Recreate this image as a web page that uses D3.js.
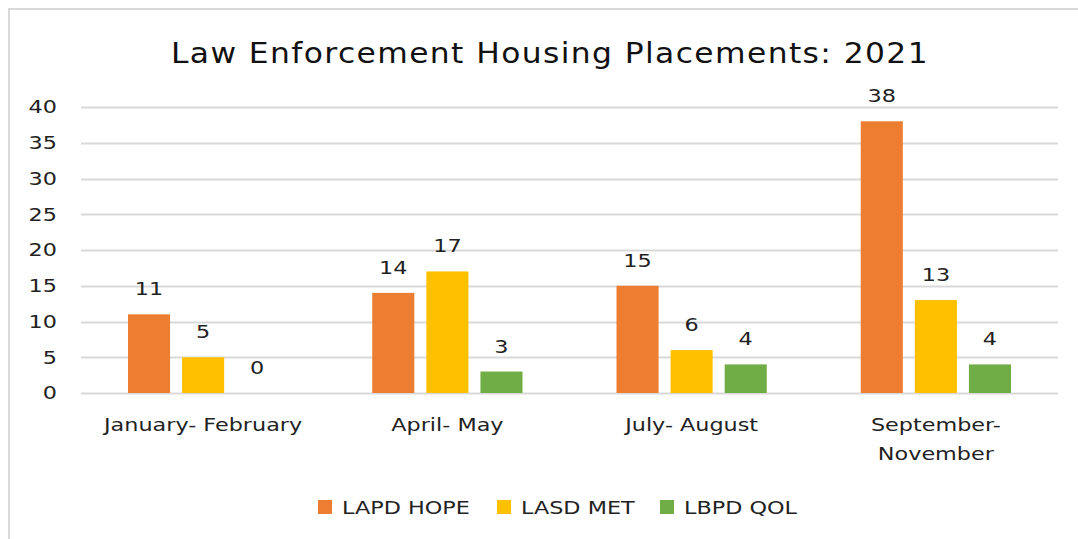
<!DOCTYPE html>
<html>
<head>
<meta charset="utf-8">
<script src="https://cdn.jsdelivr.net/npm/d3@7"></script>
<style>
	body { margin: 0; background: #fff; }
	svg { display: block; font-family: "DejaVu Sans", sans-serif; }
</style>
</head>
<body>
<svg id="chart" width="1078" height="539"></svg>
<script>
const categories = ["January- February", "April- May", "July- August", "September- November"];
const seriesNames = ["LAPD HOPE", "LASD MET", "LBPD QOL"];
const lapdHope = [11, 14, 15, 38];
const lasdMet = [5, 17, 6, 13];
const lbpdQol = [0, 3, 4, 4];
const yTicks = [0, 5, 10, 15, 20, 25, 30, 35, 40];
const colors = ["#ED7D31", "#FFC000", "#70AD47"];

const seriesValues = [lapdHope, lasdMet, lbpdQol];
const rows = categories.map((c, i) => ({
	category: c,
	values: seriesNames.map((s, j) => ({ series: s, value: seriesValues[j][i], color: colors[j] }))
}));

const fontSize = 18;
const stretch = 1.24;   // the source text is rendered wide
const textColor = '#222';
const svg = d3.select('#chart');

// put a text at (x,y), widened horizontally
const placeText = (sel, x, y) => sel.attr('transform', `translate(${x},${y}) scale(${stretch},1)`);

// chart frame (top and left edges only show in the crop)
svg.append('line').attr('x1', 9).attr('x2', 1078).attr('y1', 9).attr('y2', 9)
	.attr('stroke', '#d9d9d9').attr('stroke-width', 2);
svg.append('line').attr('x1', 9).attr('x2', 9).attr('y1', 8).attr('y2', 539)
	.attr('stroke', '#d9d9d9').attr('stroke-width', 2);

const title = svg.append('text')
	.attr('text-anchor', 'middle')
	.attr('font-size', 28)
	.attr('fill', '#111')
	.attr('transform', 'translate(550,63) scale(1.12,1)')
	.text('Law Enforcement Housing Placements: 2021');
const tw = title.node().getComputedTextLength();
title.attr('letter-spacing', ((758 / 1.12 - tw) / title.text().length) + 'px');

const x0 = d3.scaleBand().domain(categories).range([81, 1058]);
const x1 = d3.scaleBand().domain(seriesNames)
	.range([47, x0.bandwidth() - 47])
	.paddingInner(12 / 54);
const y = d3.scaleLinear().domain([0, 40]).range([393, 107]);

// gridlines
svg.append('g')
	.selectAll('line')
	.data(yTicks)
	.join('line')
		.attr('x1', 81).attr('x2', 1058)
		.attr('y1', d => Math.round(y(d)) + 0.5)
		.attr('y2', d => Math.round(y(d)) + 0.5)
		.attr('stroke', '#d9d9d9')
		.attr('stroke-width', 2);

// y axis labels
const yAxis = svg.append('g')
	.attr('transform', 'translate(81,0)')
	.call(d3.axisLeft(y).tickValues(yTicks).tickSize(0).tickPadding(24));
yAxis.select('.domain').remove();
yAxis.selectAll('text')
	.attr('font-size', fontSize)
	.attr('font-family', '"DejaVu Sans", sans-serif')
	.attr('fill', textColor)
	.attr('x', 0)
	.attr('transform', `translate(-24,0) scale(${stretch},1)`);

// bars
const groups = svg.append('g')
	.selectAll('g')
	.data(rows)
	.join('g')
		.attr('transform', d => `translate(${x0(d.category)},0)`);

groups.selectAll('rect')
	.data(d => d.values)
	.join('rect')
		.attr('x', d => x1(d.series))
		.attr('width', x1.bandwidth())
		.attr('y', d => y(d.value))
		.attr('height', d => y(0) - y(d.value))
		.attr('fill', d => d.color);

groups.selectAll('text')
	.data(d => d.values)
	.join('text')
		.attr('text-anchor', 'middle')
		.attr('font-size', fontSize)
		.attr('fill', textColor)
		.each(function (d) {
			placeText(d3.select(this), x1(d.series) + x1.bandwidth() / 2, y(d.value) - 19);
		})
		.text(d => d.value);

// category labels
svg.append('g')
	.selectAll('text')
	.data(categories)
	.join('text')
		.attr('text-anchor', 'middle')
		.attr('font-size', fontSize)
		.attr('fill', textColor)
		.each(function (d) {
			const t = d3.select(this);
			placeText(t, x0(d) + x0.bandwidth() / 2, 431);
			const parts = d.length > 18 ? d.split(' ') : [d];
			parts.forEach((p, i) => {
				t.append('tspan')
					.attr('x', 0)
					.attr('dy', i === 0 ? 0 : 29)
					.text(p);
			});
		});

// legend
const legendX = [318, 497, 660];
const legend = svg.append('g')
	.selectAll('g')
	.data(seriesNames)
	.join('g')
		.attr('transform', (d, i) => `translate(${legendX[i]},500)`);
legend.append('rect')
	.attr('width', 14).attr('height', 14)
	.attr('fill', (d, i) => colors[i]);
legend.append('text')
	.attr('font-size', fontSize)
	.attr('fill', textColor)
	.each(function () { placeText(d3.select(this), 24, 14); })
	.text(d => d);
</script>
</body>
</html>
